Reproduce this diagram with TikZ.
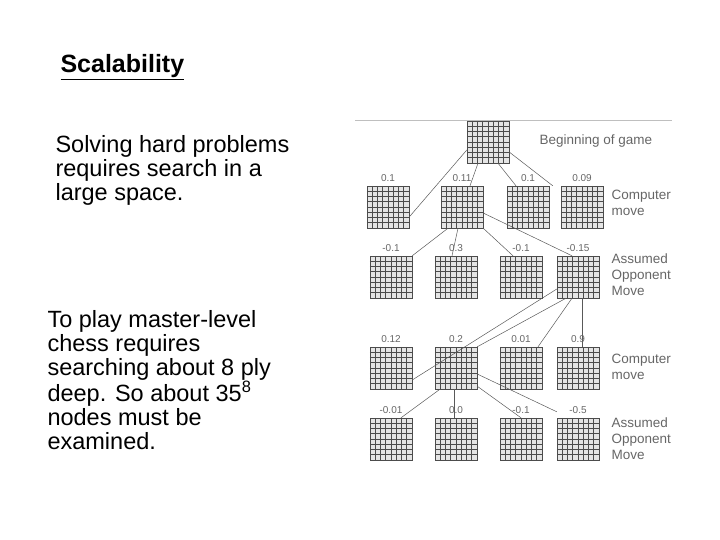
\documentclass[tikz,border=0pt]{standalone}
\usepackage{fontspec}
\setmainfont{Liberation Sans}
\begin{document}
\begin{tikzpicture}[x=1pt,y=-1pt,
 board/.style={minimum size=42pt,inner sep=0pt,draw=gray!70,fill=gray!20},
 val/.style={font=\fontsize{10}{11}\selectfont,text=gray!80!black,anchor=south},
 side/.style={font=\fontsize{13.5}{16}\selectfont,text=gray!80!black,align=left,anchor=west},
 body/.style={font=\fontsize{23.5}{24}\selectfont,align=left,anchor=west},
 edge/.style={gray!70!black,line width=0.5pt}]
\useasboundingbox (0,0) rectangle (720,540);
\newcommand\brd[3]{\node[board] (#1) at (#2,#3) {};
 \foreach \k in {1,...,7}{\draw[gray!60!black,line width=0.4pt] ([xshift=\k*5.25pt]#1.north west)--([xshift=\k*5.25pt]#1.south west);
 \draw[gray!60!black,line width=0.4pt] ([yshift=-\k*5.25pt]#1.north west)--([yshift=-\k*5.25pt]#1.north east);}
 \draw[gray!60!black,line width=0.5pt] (#1.north west) rectangle (#1.south east);}
\node[font=\bfseries\fontsize{25}{26}\selectfont,anchor=west] (title) at (57,67) {\underline{Scalability}};
\node[body] (t1) at (52,170) {Solving hard problems\\requires search in a\\large space.};
\node[body] (t2) at (44,380) {To play master-level\\chess requires\\searching about 8 ply\\deep.  So about 35\textsuperscript{8}\\nodes must be\\examined.};
\coordinate (l0) at (355,120); \coordinate (l1) at (672,120);
\draw[gray!50,line width=0.6pt] (l0)--(l1);
\brd{b0}{488}{142}
\brd{a1}{388}{207}\brd{a2}{462}{207}\brd{a3}{528}{207}\brd{a4}{582}{207}
\brd{c1}{391}{277}\brd{c2}{456}{277}\brd{c3}{521}{277}\brd{c4}{578}{277}
\brd{d1}{391}{368}\brd{d2}{456}{368}\brd{d3}{521}{368}\brd{d4}{578}{368}
\brd{e1}{391}{439}\brd{e2}{456}{439}\brd{e3}{521}{439}\brd{e4}{578}{439}
\draw[edge] ([yshift=-8pt]b0.west)--([yshift=-10pt]a1.east);
\draw[edge] ([xshift=-10pt]b0.south)--([xshift=8pt]a2.north);
\draw[edge] ([xshift=10pt]b0.south)--([xshift=-12pt]a3.north);
\draw[edge] ([yshift=-10pt]b0.east)--([xshift=-8pt]a4.north west);
\draw[edge] ([xshift=-14pt]a2.south)--(c1.north east);
\draw[edge] ([xshift=-4pt]a2.south)--([xshift=-4pt]c2.north);
\draw[edge] (a2.south east)--([xshift=-8pt]c3.north);
\draw[edge] ([yshift=-6pt]a2.east)--([xshift=-6pt]c4.north);
\draw[edge] ([yshift=-12pt]c4.west)--([yshift=-12pt]d1.east);
\draw[edge] ([xshift=-12pt]c4.south)--(d2.north east);
\draw[edge] ([xshift=-6pt]c4.south)--([xshift=17pt]d3.north);
\draw[edge] ([xshift=4pt]c4.south)--([xshift=4pt]d4.north);
\draw[edge] ([xshift=-16pt]d2.south)--([xshift=10pt]e1.north);
\draw[edge] ([xshift=-2pt]d2.south)--([xshift=-2pt]e2.north);
\draw[edge] ([yshift=3pt]d2.south east)--([xshift=0pt]e3.north);
\draw[edge] ([yshift=-6pt]d2.east)--([yshift=6pt]e4.north west);
\foreach \n/\v in {a1/0.1,a2/0.11,a3/0.1,a4/0.09,c1/-0.1,c2/0.3,c3/-0.1,c4/-0.15,d1/0.12,d2/0.2,d3/0.01,d4/0.9,e1/-0.01,e2/0.0,e3/-0.1,e4/-0.5}
 \node[val] (v\n) at ([yshift=1pt]\n.north) {\v};
\node[side] (s0) at (536,141) {Beginning of game};
\node[side] (s1) at (608,203) {Computer\\move};
\node[side] (s2) at (608,275) {Assumed\\Opponent\\Move};
\node[side] (s3) at (608,367) {Computer\\move};
\node[side] (s4) at (608,439) {Assumed\\Opponent\\Move};
\end{tikzpicture}
\end{document}
